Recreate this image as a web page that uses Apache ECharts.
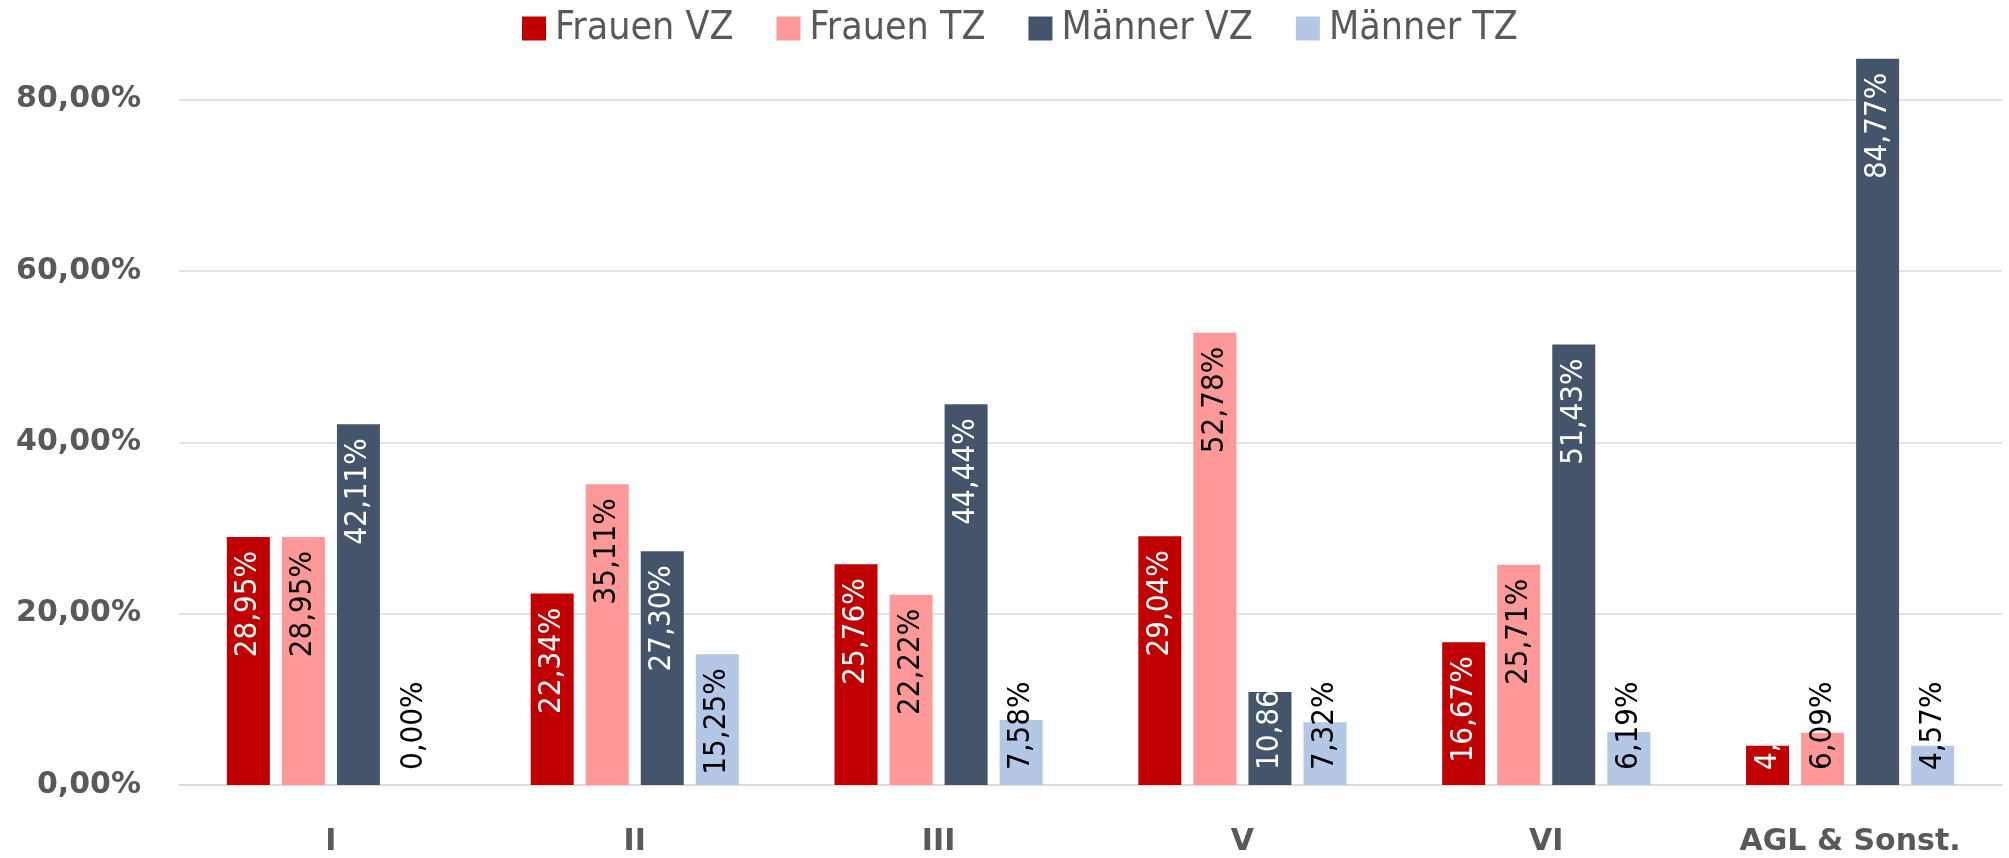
<!DOCTYPE html>
<html>
<head>
<meta charset="utf-8">
<script src="https://cdn.jsdelivr.net/npm/echarts@6/dist/echarts.min.js"></script>
<style>
  html, body { margin: 0; padding: 0; background: #fff; }
  #main { width: 2009px; height: 858px; }
</style>
</head>
<body>
<div id="main"></div>
<script>
var categories = ["I", "II", "III", "V", "VI", "AGL & Sonst."];
var frauenVZ  = [28.95, 22.34, 25.76, 29.04, 16.67, 4.57];
var frauenTZ  = [28.95, 35.11, 22.22, 52.78, 25.71, 6.09];
var maennerVZ = [42.11, 27.30, 44.44, 10.86, 51.43, 84.77];
var maennerTZ = [0.00, 15.25, 7.58, 7.32, 6.19, 4.57];

var seriesDefs = [
    { name: "Frauen VZ", data: frauenVZ,  color: "#C00000", text: "#ffffff", clip: true },
    { name: "Frauen TZ", data: frauenTZ,  color: "#FF9999", text: "#000000", clip: false },
    { name: "Männer VZ", data: maennerVZ, color: "#44546A", text: "#ffffff", clip: true },
    { name: "Männer TZ", data: maennerTZ, color: "#B4C7E7", text: "#000000", clip: false }
];

var LABEL_FONT = "DejaVu Sans Condensed";
var LABEL_SIZE = 31;

function fmt(v) {
    return v.toFixed(2).replace(".", ",") + "%";
}

var myChart = echarts.init(document.getElementById("main"));

var option = {
    animation: false,
    backgroundColor: "#ffffff",
    legend: {
        data: seriesDefs.map(s => s.name),
        left: 517,
        top: 4,
        itemWidth: 24,
        itemHeight: 24,
        itemGap: 43,
        icon: "rect",
        textStyle: { color: "#595959", fontSize: 39, fontFamily: LABEL_FONT, padding: [0, 0, 0, 4] }
    },
    grid: { left: 179, right: 7, top: 14, bottom: 73 },
    xAxis: {
        type: "category",
        data: categories,
        axisTick: { show: false },
        axisLine: { lineStyle: { color: "#d9d9d9", width: 1.5 } },
        axisLabel: {
            color: "#595959", fontSize: 30, fontWeight: "bold",
            fontFamily: "DejaVu Sans", margin: 42, interval: 0
        }
    },
    yAxis: {
        type: "value",
        min: 0,
        max: 90,
        interval: 20,
        axisLine: { show: false },
        axisTick: { show: false },
        splitLine: { showMaxLine: false, lineStyle: { color: "#d9d9d9", width: 1.5 } },
        axisLabel: {
            color: "#595959", fontSize: 30, fontWeight: "bold",
            fontFamily: "DejaVu Sans", margin: 38,
            formatter: function (v) { return v > 80 ? "" : v.toFixed(2).replace(".", ",") + "%"; }
        }
    },
    series: seriesDefs.map(s => ({
        name: s.name,
        type: "bar",
        barWidth: 43,
        barGap: "28%",
        itemStyle: { color: s.color },
        data: s.data
    }))
};

myChart.setOption(option);

// place the data labels once the scale is known
var ctx = document.createElement("canvas").getContext("2d");
ctx.font = LABEL_SIZE + "px \"" + LABEL_FONT + "\"";
var base = myChart.convertToPixel({ yAxisIndex: 0 }, 0);

myChart.setOption({
    series: seriesDefs.map(s => ({
        name: s.name,
        data: s.data.map(function (v) {
            var barLen = base - myChart.convertToPixel({ yAxisIndex: 0 }, v);
            var textW = ctx.measureText(fmt(v)).width;
            var label = {
                show: true,
                rotate: 90,
                verticalAlign: "middle",
                color: s.text,
                fontSize: LABEL_SIZE,
                fontFamily: LABEL_FONT,
                formatter: function (p) { return fmt(p.value); }
            };
            if (barLen >= textW + 22) {
                label.position = "insideTop";
                label.align = "right";
                label.distance = 14;
            } else {
                label.position = "insideBottom";
                label.align = "left";
                label.distance = 15;
                if (s.clip) {
                    // text of dark bars is cut off at the bar end
                    label.width = Math.max(barLen + 2, 1);
                    label.overflow = "truncate";
                    label.ellipsis = "";
                }
            }
            return { value: v, label: label };
        })
    }))
});

window.addEventListener("resize", function () { myChart.resize(); });
</script>
</body>
</html>
